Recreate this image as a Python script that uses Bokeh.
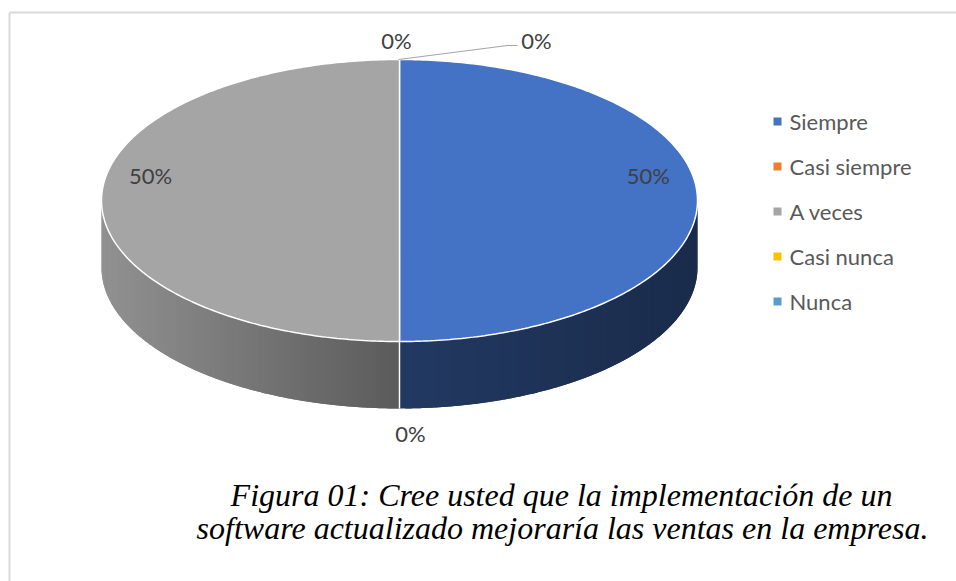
import numpy as np
from bokeh.plotting import figure
from bokeh.models import Range1d
from bokeh.core.properties import value
from bokeh.embed import file_html
from bokeh.resources import INLINE

# ---------------- data ----------------
categories = ["Siempre", "Casi siempre", "A veces", "Casi nunca", "Nunca"]
values = [50, 0, 50, 0, 0]
colors = ["#4472C4", "#ED7D31", "#A5A5A5", "#FFC000", "#5B9BD5"]
caption_lines = [
    "Figura 01: Cree usted que la implementación de un",
    "software actualizado mejoraría las ventas en la empresa.",
]

# ---------------- layout / style ----------------
W, H = 956, 581
cx, cy, a, b, depth = 399.0, 200.0, 298.0, 141.0, 67.0
side_shade = {"#4472C4": (0.50, 0.38), "#A5A5A5": (0.88, 0.55)}
LABEL_FONT = value("Lato")
label_size = "22px"

p = figure(width=W, height=H, x_range=Range1d(0, W), y_range=Range1d(H, 0),
           x_axis_type=None, y_axis_type=None, output_backend="svg",
           toolbar_location=None, min_border=0)
p.grid.visible = False
p.outline_line_color = None
p.background_fill_color = "white"
p.border_fill_color = "white"

# frame of the chart area
p.line([9, 9], [H, 12], line_color="#d9d9d9", line_width=2)
p.line([9, W], [12, 12], line_color="#d9d9d9", line_width=2)


def ell(theta, dy=0.0):
    return cx + a * np.sin(theta), cy - b * np.cos(theta) + dy


def hex_rgb(h):
    h = h.lstrip("#")
    return np.array([int(h[i:i + 2], 16) for i in (0, 2, 4)], dtype=float)


def rgb_hex(c):
    c = np.clip(np.round(c), 0, 255).astype(int)
    return "#%02x%02x%02x" % tuple(c)


total = float(sum(values))
fracs = [v / total for v in values]
cum = np.concatenate([[0.0], np.cumsum(fracs)])
theta0 = 2 * np.pi * cum[:-1]
theta1 = 2 * np.pi * cum[1:]

# ---------------- side of the cylinder (front half) ----------------
sx, sy, sc = [], [], []
for i in range(len(values)):
    lo, hi = max(theta0[i], np.pi / 2), min(theta1[i], 3 * np.pi / 2)
    if hi <= lo:
        continue
    base = hex_rgb(colors[i])
    f_left, f_right = side_shade.get(colors[i], (0.6, 0.45))
    n = 80
    edges = np.linspace(lo, hi, n + 1)
    ex, _ = ell(edges)
    xmin, xmax = ex.min(), ex.max()
    # order strips from left to right so that each covers the seam of the previous
    order = np.argsort([ell((edges[k] + edges[k + 1]) / 2)[0] for k in range(n)])
    for k in order:
        k2 = min(k + 2, n) if ex[k + 1] > ex[k] else k + 1
        k1 = k if ex[k + 1] > ex[k] else max(k - 1, 0)
        th = np.linspace(edges[k1], edges[k2], 6)
        xt, yt = ell(th)
        sx.append(list(xt) + list(xt[::-1]))
        sy.append(list(yt) + list(yt[::-1] + depth))
        t = ((ex[k] + ex[k + 1]) / 2 - xmin) / (xmax - xmin)
        f = f_left + (f_right - f_left) * t
        sc.append(rgb_hex(base * f))
p.patches(sx, sy, fill_color=sc, line_color=None)

# separators on the side
for t in np.unique(theta0):
    if np.pi / 2 < t < 3 * np.pi / 2:
        x0, y0 = ell(t)
        p.segment([x0], [y0], [x0], [y0 + depth], line_color="white", line_width=1.5)

# ---------------- top face ----------------
tx, ty, tc = [], [], []
for i in range(len(values)):
    if values[i] <= 0:
        continue
    th = np.linspace(theta0[i], theta1[i], 240)
    ex, ey = ell(th)
    tx.append([cx] + list(ex))
    ty.append([cy] + list(ey))
    tc.append(colors[i])
p.patches(tx, ty, fill_color=tc, line_color="white", line_width=1.5)

# ---------------- data labels ----------------
pct = ["%d%%" % round(100 * v / total) for v in values]
lab_x, lab_y = [], []
zero_count = {}
for i in range(len(values)):
    if values[i] > 0:
        mid = (theta0[i] + theta1[i]) / 2
        lab_x.append(cx + 0.835 * a * np.sin(mid))
        lab_y.append(cy - 0.835 * b * np.cos(mid) - 25)
    else:
        t = theta0[i] % (2 * np.pi)
        x0, y0 = ell(t)
        n = zero_count.get(round(t, 6), 0)
        zero_count[round(t, 6)] = n + 1
        if np.cos(t) < 0:  # bottom
            lab_x.append(x0 + 11)
            lab_y.append(y0 + depth + 25)
        else:  # top
            if n == 0:
                lab_x.append(x0 - 3)
                lab_y.append(y0 - 19)
            else:
                lab_x.append(x0 + 137)
                lab_y.append(y0 - 19)
                p.line([x0 - 1, x0 + 108, x0 + 118], [y0, y0 - 14, y0 - 14],
                       line_color="#a6a6a6", line_width=1.2)
p.text(lab_x, lab_y, text=pct, text_font=LABEL_FONT, text_font_size=label_size,
       text_color="#404040", text_align="center", text_baseline="middle")

# ---------------- legend ----------------
leg_y = [121 + 45 * k for k in range(len(categories))]
p.scatter([777] * len(categories), leg_y, marker="square", size=8,
          fill_color=colors, line_color=None)
p.text([789] * len(categories), leg_y, text=categories, text_font=LABEL_FONT,
       text_font_size=label_size, text_color="#595959", text_align="left",
       text_baseline="middle")

# ---------------- caption ----------------
p.text([561, 562], [494, 527], text=caption_lines, text_font=value("Liberation Serif"),
       text_font_style="italic", text_font_size="32px", text_color="#000000",
       text_align="center", text_baseline="alphabetic")

open("out.html", "w").write(file_html(p, INLINE))
